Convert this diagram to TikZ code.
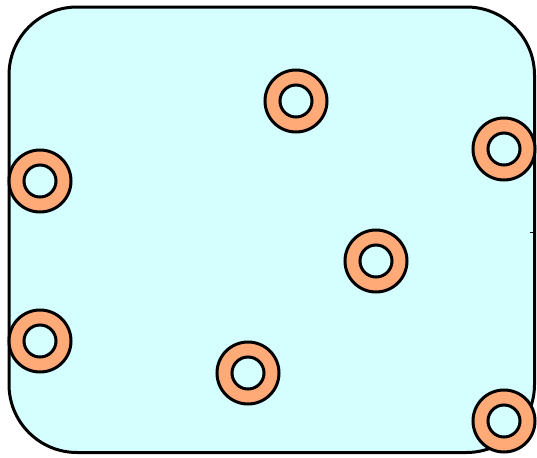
\documentclass[tikz,border=0pt]{standalone}
\definecolor{bgcyan}{HTML}{D5FFFF}
\definecolor{ringor}{HTML}{FFAA77}
\tikzset{
  ringouter/.style={draw=black,fill=ringor,line width=2.25pt,circle,minimum size=46.5pt,inner sep=0pt},
  ringinner/.style={draw=black,fill=bgcyan,line width=2.25pt,circle,minimum size=24pt,inner sep=0pt}
}
\begin{document}
\begin{tikzpicture}[x=0.75pt,y=-0.75pt]
\useasboundingbox (0,0) rectangle (537,458);
\draw[line width=2.25pt,fill=bgcyan,rounded corners=51pt] (9,7) rectangle (534.5,452.5);
\coordinate (t1) at (530,232);
\coordinate (t2) at (534,232);
\draw[line width=0.75pt] (t1) -- (t2);
\foreach \n/\x/\y in {a/296/101,b/504/149,c/40/181,d/376/261,e/40/341,f/248/373,g/504/421}{
  \node[ringouter] (\n o) at (\x,\y) {};
  \node[ringinner] (\n i) at (\x,\y) {};
}
\end{tikzpicture}
\end{document}
